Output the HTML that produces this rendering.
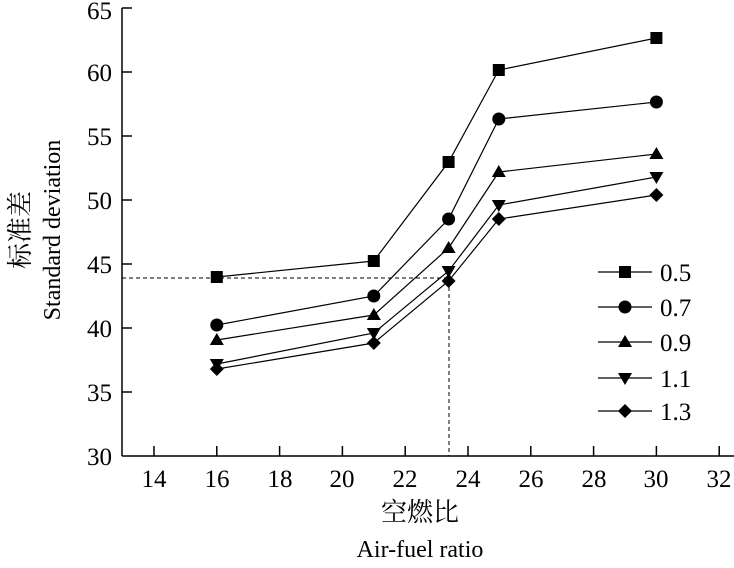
<!DOCTYPE html><html><head><style>body{margin:0;background:#fff}svg text{font-family:"Liberation Serif","Noto Serif CJK SC",serif;fill:#000}</style></head><body>
<svg width="734" height="563" viewBox="0 0 734 563">
<g stroke="#000" stroke-width="1.5" fill="none">
<line x1="122" y1="8" x2="122" y2="456"/><line x1="122" y1="456" x2="746" y2="456"/>
<path d="M154 456v-10M216.8 456v-10M279.6 456v-10M342.4 456v-10M405.2 456v-10M468 456v-10M530.8 456v-10M593.6 456v-10M656.4 456v-10M719.2 456v-10"/>
<path d="M122 392h10M122 328h10M122 264h10M122 200h10M122 136h10M122 72h10M122 8h10"/>
</g>
<g stroke="#000" stroke-width="1" stroke-dasharray="4,3" fill="none"><path d="M122 278H449V456"/></g>
<g font-size="25" text-anchor="middle">
<text x="154" y="487">14</text><text x="217" y="487">16</text><text x="280" y="487">18</text><text x="342" y="487">20</text><text x="405" y="487">22</text><text x="468" y="487">24</text><text x="531" y="487">26</text><text x="594" y="487">28</text><text x="656" y="487">30</text><text x="719" y="487">32</text>
</g>
<g font-size="25" text-anchor="end">
<text x="112" y="465">30</text><text x="112" y="401">35</text><text x="112" y="337">40</text><text x="112" y="273">45</text><text x="112" y="209">50</text><text x="112" y="145">55</text><text x="112" y="81">60</text><text x="112" y="19">65</text>
</g>
<text x="420" y="521" font-size="26" text-anchor="middle">空燃比</text>
<text x="420" y="557" font-size="24" text-anchor="middle">Air-fuel ratio</text>
<text transform="translate(29,230) rotate(-90)" font-size="26" text-anchor="middle">标准差</text>
<text transform="translate(60,230) rotate(-90)" font-size="24" text-anchor="middle">Standard deviation</text>
<g stroke="#000" stroke-width="1.2" fill="none">
<polyline points="216.8,277 373.8,261 448.6,162 498.8,70 656.4,38"/>
<polyline points="216.8,325 373.8,296 448.6,219 498.8,119 656.4,102"/>
<polyline points="216.8,340 373.8,315 448.6,248 498.8,172 656.4,154"/>
<polyline points="216.8,364 373.8,333 448.6,271 498.8,205 656.4,177"/>
<polyline points="216.8,369 373.8,343 448.6,281 498.8,219 656.4,195"/>
<path d="M598 272h54M598 307h54M598 342h54M598 378h54M598 411h54"/>
</g>
<defs>
<rect id="s" x="-6" y="-6" width="12" height="12"/>
<circle id="c" r="6.5"/>
<path id="u" d="M0 -7L7 5H-7Z"/>
<path id="d" d="M0 7L7 -5H-7Z"/>
<path id="r" d="M0 -7L7 0L0 7L-7 0Z"/>
</defs>
<g fill="#000">
<use href="#s" x="216.8" y="277"/><use href="#s" x="373.8" y="261"/><use href="#s" x="448.6" y="162"/><use href="#s" x="498.8" y="70"/><use href="#s" x="656.4" y="38"/>
<use href="#c" x="216.8" y="325"/><use href="#c" x="373.8" y="296"/><use href="#c" x="448.6" y="219"/><use href="#c" x="498.8" y="119"/><use href="#c" x="656.4" y="102"/>
<use href="#u" x="216.8" y="340"/><use href="#u" x="373.8" y="315"/><use href="#u" x="448.6" y="248"/><use href="#u" x="498.8" y="172"/><use href="#u" x="656.4" y="154"/>
<use href="#d" x="216.8" y="364"/><use href="#d" x="373.8" y="333"/><use href="#d" x="448.6" y="271"/><use href="#d" x="498.8" y="205"/><use href="#d" x="656.4" y="177"/>
<use href="#r" x="216.8" y="369"/><use href="#r" x="373.8" y="343"/><use href="#r" x="448.6" y="281"/><use href="#r" x="498.8" y="219"/><use href="#r" x="656.4" y="195"/>
<use href="#s" x="625" y="272"/><use href="#c" x="625" y="307"/><use href="#u" x="625" y="342"/><use href="#d" x="625" y="378"/><use href="#r" x="625" y="411"/>
</g>
<g font-size="25">
<text x="660" y="281">0.5</text><text x="660" y="316">0.7</text><text x="660" y="351">0.9</text><text x="660" y="387">1.1</text><text x="660" y="420">1.3</text>
</g>
</svg></body></html>
